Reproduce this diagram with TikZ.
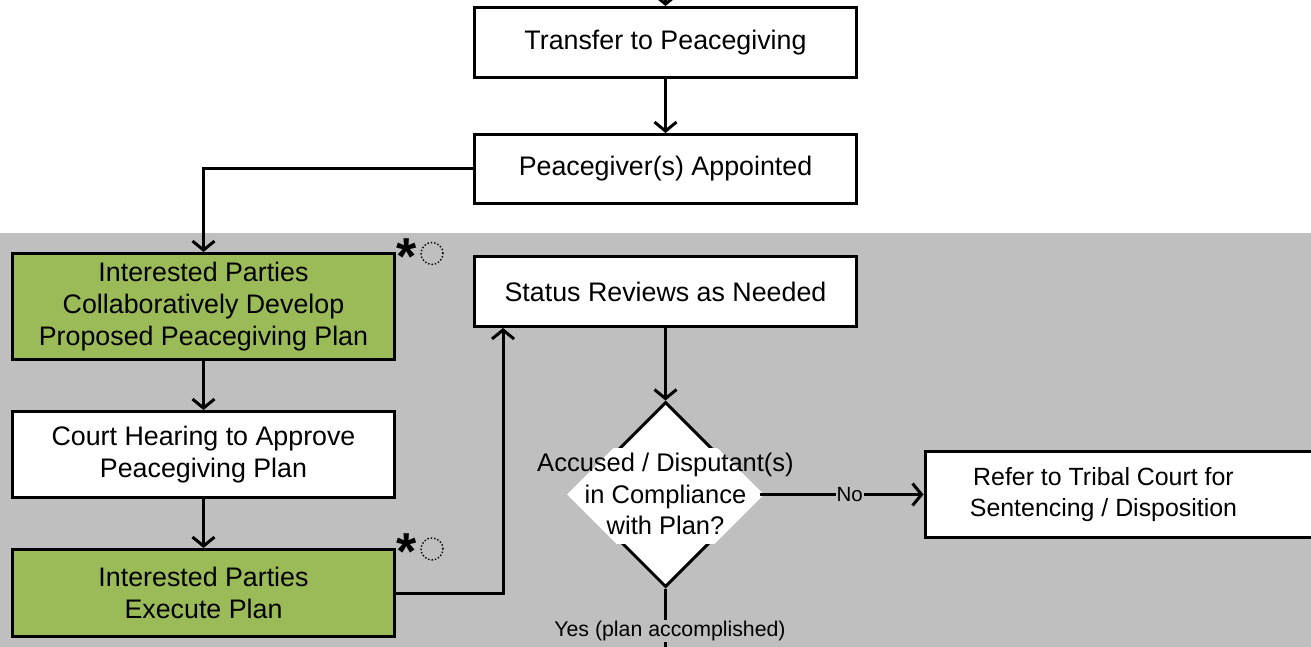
\documentclass[tikz,border=0pt]{standalone}
\usepackage{fontspec}
\setmainfont{Liberation Sans}
\usetikzlibrary{arrows.meta,shapes.geometric}
\definecolor{bggray}{RGB}{191,191,191}
\definecolor{olivefill}{RGB}{155,187,89}
\begin{document}
\begin{tikzpicture}[x=1pt,y=-1pt,
  every node/.style={font=\fontsize{26.8}{31.7}\selectfont, text=black},
  box/.style={draw=black, line width=3pt, fill=white, rectangle, align=center, minimum width=382pt, inner sep=0pt},
  greenbox/.style={box, fill=olivefill},
  conn/.style={line width=3pt, -{Straight Barb[length=9pt,width=22pt]}},
  plain/.style={line width=3pt},
  small/.style={fill=bggray, inner sep=1pt},
  star/.style={font=\fontsize{52}{52}\bfseries\selectfont, inner sep=0pt},
  ring/.style={draw=black, dotted, line width=1.4pt, circle, minimum size=22pt, inner sep=0pt}
]
\useasboundingbox (0,0) rectangle (1311,647);
\fill[bggray] (0,233) rectangle (1311,647);

\node[box, minimum height=70pt] (transfer) at (665.5,42.5) {Transfer to Peacegiving};
\node[box, minimum height=69pt] (appoint) at (665.5,169) {Peacegiver(s) Appointed};
\node[greenbox, minimum height=106pt] (develop) at (203.5,306.5) {Interested Parties\\Collaboratively Develop\\Proposed Peacegiving Plan};
\node[box, minimum height=86pt] (court) at (203.5,454.5) {Court Hearing to Approve\\Peacegiving Plan};
\node[greenbox, minimum height=87pt] (execute) at (203.5,593) {Interested Parties\\Execute Plan};
\node[box, minimum height=70pt] (status) at (665.5,291.5) {Status Reviews as Needed};
\node[box, anchor=west, minimum width=397pt, minimum height=86pt, inner xsep=0pt] (refer) at (923.5,494.5)
  {\parbox{357pt}{\centering\fontsize{24.9}{31.7}\selectfont Refer to Tribal Court for\\Sentencing / Disposition}\hspace*{40pt}};

\node[diamond, draw=black, line width=3pt, fill=white, minimum width=185pt, minimum height=185pt, inner sep=0pt] (dec) at (665.5,494.5) {};
\begin{scope}
  \clip (540,448) rectangle (790,543);
  \node[diamond, fill=white, minimum width=197pt, minimum height=197pt, inner sep=0pt] (decband) at (dec.center) {};
\end{scope}
\node[align=center, inner sep=0pt, font=\fontsize{25.5}{31.7}\selectfont] (dectext) at (665.5,494) {Accused / Disputant(s)\\in Compliance\\with Plan?};

\node[star] (s1) at (407,257) {*};
\node[ring] (r1) at (432,253.5) {};
\node[star] (s2) at (407,552) {*};
\node[ring] (r2) at (432,549) {};

\coordinate (topin) at (665.5,-10);
\coordinate (bend) at (503,593);
\coordinate (yesend) at (665.5,680);

\draw[conn] (topin) -- (transfer.north);
\draw[conn] (transfer.south) -- (appoint.north);
\draw[conn] (appoint.west) -| (develop.north);
\draw[conn] (develop.south) -- (court.north);
\draw[conn] (court.south) -- (execute.north);
\draw[conn] (execute.east) -- (bend) -- (bend |- status.south);
\draw[conn] (status.south) -- (dec.north);
\draw[conn] (dec.east) -- node[small, pos=0.55, font=\fontsize{20.5}{24}\selectfont] (nolab) {No} (refer.west);
\draw[conn] (dec.south) -- (yesend);
\node[small, font=\fontsize{21.3}{25}\selectfont] (yeslab) at (670,631) {Yes (plan accomplished)};
\end{tikzpicture}
\end{document}
